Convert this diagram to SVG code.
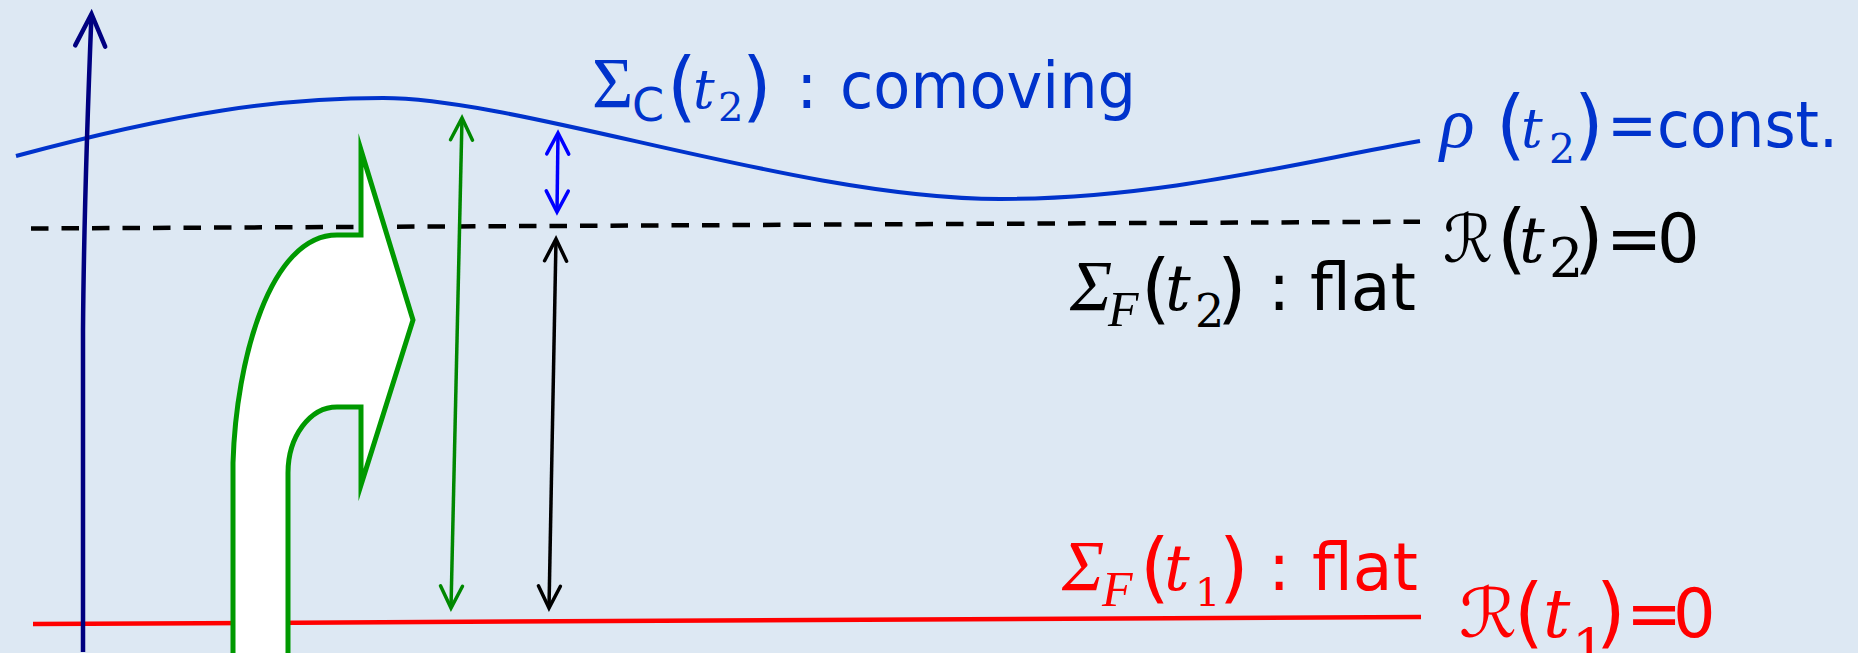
<svg xmlns="http://www.w3.org/2000/svg" width="1858" height="653" viewBox="0 0 1858 653">
<style>
.sans{font-family:"DejaVu Sans","Liberation Sans",sans-serif}
.ser{font-family:"Liberation Serif","DejaVu Serif",serif}
.dser{font-family:"DejaVu Serif","Liberation Serif",serif}
.it{font-style:italic}
.bl{fill:#0033cc}
.bk{fill:#000000}
.rd{fill:#ff0000}
.par{font-size:76px}
</style>
<defs>
<marker id="mNavy" markerUnits="userSpaceOnUse" viewBox="-36 -18 40 36" markerWidth="40" markerHeight="36" refX="0" refY="0" orient="auto-start-reverse" overflow="visible">
<path d="M-32,-15 L0,0 L-32,15" fill="none" stroke="#000080" stroke-width="4.5" stroke-linecap="round"/>
</marker>
<marker id="mGreen" markerUnits="userSpaceOnUse" viewBox="-26 -14 30 28" markerWidth="30" markerHeight="28" refX="0" refY="0" orient="auto-start-reverse" overflow="visible">
<path d="M-22,-11 L0,0 L-22,11" fill="none" stroke="#008800" stroke-width="3.5" stroke-linecap="round"/>
</marker>
<marker id="mBlue" markerUnits="userSpaceOnUse" viewBox="-26 -14 30 28" markerWidth="30" markerHeight="28" refX="0" refY="0" orient="auto-start-reverse" overflow="visible">
<path d="M-21,-11 L0,0 L-21,11" fill="none" stroke="#0000ff" stroke-width="3.5" stroke-linecap="round"/>
</marker>
<marker id="mBlack" markerUnits="userSpaceOnUse" viewBox="-26 -14 30 28" markerWidth="30" markerHeight="28" refX="0" refY="0" orient="auto-start-reverse" overflow="visible">
<path d="M-22,-11 L0,0 L-22,11" fill="none" stroke="#000000" stroke-width="3.5" stroke-linecap="round"/>
</marker>
</defs>
<rect x="0" y="0" width="1858" height="653" fill="#dde8f3"/>

<g id="surfaces">
<path id="comoving-surface" d="M16,156 C180,112 280,98 383,98 C520,98 800,199 1000,199 C1160,199 1300,162 1420,141" fill="none" stroke="#0033cc" stroke-width="4"/>
<line id="flat-t2" x1="31" y1="228.5" x2="1420" y2="221.7" stroke="#000" stroke-width="4.5" stroke-dasharray="17.5 13"/>
<line id="flat-t1" x1="33" y1="624" x2="1421" y2="617" stroke="#ff0000" stroke-width="4.5"/>
</g>

<g id="bent-arrow">
<path d="M233,670 L233,463 C236,360 270,235 337,235 L361,235 L361,150 L413,320 L361,485 L361,407 L337,407 A49,66 0 0 0 288,473 L288,670 Z" fill="#ffffff" stroke="#009900" stroke-width="5" stroke-miterlimit="10"/>
</g>

<g id="connectors">
<path id="time-axis" d="M83,652 L83,330 Q84,200 91.5,14" fill="none" stroke="#000080" stroke-width="4.5" marker-end="url(#mNavy)"/>
<line id="green-gap" x1="451" y1="608" x2="462" y2="118" stroke="#008800" stroke-width="3.5" marker-start="url(#mGreen)" marker-end="url(#mGreen)"/>
<line id="blue-gap" x1="557" y1="212" x2="558" y2="133" stroke="#0000ff" stroke-width="3.5" marker-start="url(#mBlue)" marker-end="url(#mBlue)"/>
<line id="black-gap" x1="549" y1="608" x2="556" y2="239" stroke="#000" stroke-width="3.5" marker-start="url(#mBlack)" marker-end="url(#mBlack)"/>
</g>

<g id="label-comoving" class="bl">
<text class="ser" x="592" y="107" font-size="71">Σ</text>
<text class="sans" x="632" y="121" font-size="46">C</text>
<text class="sans par" x="667" y="112">(</text>
<text class="dser it" x="693" y="108" font-size="54">t</text>
<text class="dser" x="718" y="121" font-size="40">2</text>
<text class="sans par" x="742" y="112">)</text>
<text class="sans" x="796" y="108" font-size="64">:</text>
<text class="sans" x="840" y="108" font-size="64" textLength="296" lengthAdjust="spacingAndGlyphs">comoving</text>
</g>

<g id="label-rho" class="bl">
<text class="ser it" x="1440" y="147" font-size="72">ρ</text>
<text class="sans par" x="1496" y="150">(</text>
<text class="dser it" x="1521" y="147" font-size="54">t</text>
<text class="dser" x="1549" y="163" font-size="41">2</text>
<text class="sans par" x="1574" y="150">)</text>
<text class="sans" x="1607" y="147" font-size="64" textLength="231" lengthAdjust="spacingAndGlyphs">=const.</text>
</g>

<g id="label-R2" class="bk">
<text class="sans" x="1443" y="262" font-size="66" textLength="50" lengthAdjust="spacingAndGlyphs">ℛ</text>
<text class="sans par" x="1497" y="264">(</text>
<text class="dser it" x="1519" y="262" font-size="64">t</text>
<text class="dser" x="1549" y="277" font-size="54">2</text>
<text class="sans par" x="1574" y="264">)</text>
<text class="sans" x="1606" y="262" font-size="67">=</text>
<text class="sans" x="1657" y="262" font-size="67">0</text>
</g>

<g id="label-flat-t2" class="bk">
<text class="ser it" x="1070" y="310" font-size="71">Σ</text>
<text class="ser it" x="1108" y="326" font-size="50">F</text>
<text class="sans par" x="1141" y="314">(</text>
<text class="dser it" x="1165" y="310" font-size="64">t</text>
<text class="dser" x="1195" y="327" font-size="46">2</text>
<text class="sans par" x="1217" y="314">)</text>
<text class="sans" x="1268" y="310" font-size="66">:</text>
<text class="sans" x="1310" y="310" font-size="66" textLength="106" lengthAdjust="spacingAndGlyphs">flat</text>
</g>

<g id="label-flat-t1" class="rd">
<text class="ser it" x="1062" y="590" font-size="71">Σ</text>
<text class="ser it" x="1102" y="606" font-size="50">F</text>
<text class="sans par" x="1140" y="593">(</text>
<text class="dser it" x="1164" y="590" font-size="64">t</text>
<text class="dser" x="1195" y="606" font-size="40">1</text>
<text class="sans par" x="1219" y="593">)</text>
<text class="sans" x="1268" y="590" font-size="66">:</text>
<text class="sans" x="1312" y="590" font-size="66" textLength="106" lengthAdjust="spacingAndGlyphs">flat</text>
</g>

<g id="label-R1" class="rd">
<text class="sans" x="1459" y="637" font-size="68" textLength="58" lengthAdjust="spacingAndGlyphs">ℛ</text>
<text class="sans par" x="1514" y="638">(</text>
<text class="dser it" x="1543" y="637" font-size="68">t</text>
<text class="dser" x="1572" y="668" font-size="54">1</text>
<text class="sans par" x="1596" y="638">)</text>
<text class="sans" x="1626" y="637" font-size="67">=</text>
<text class="sans" x="1673" y="637" font-size="67">0</text>
</g>
</svg>
